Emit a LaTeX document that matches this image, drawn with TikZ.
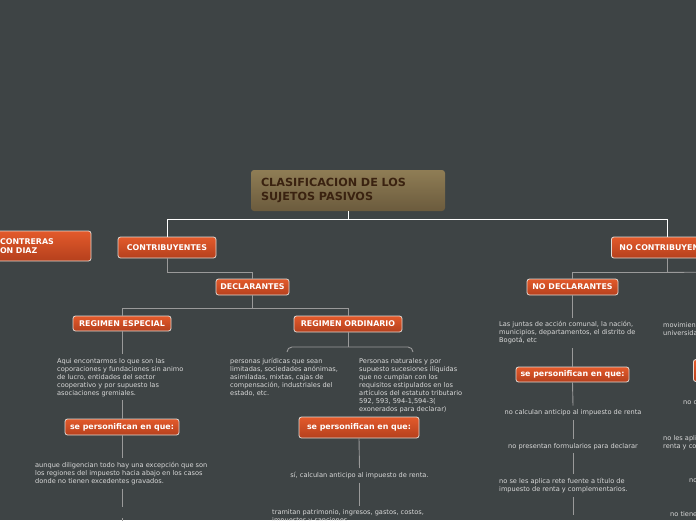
\documentclass[tikz,border=0pt]{standalone}
\usepackage{fontspec}
\setmainfont{DejaVu Sans}
\usepackage{tikz}
\usetikzlibrary{positioning,calc}
\definecolor{canvas}{HTML}{3E4445}
\definecolor{rootTop}{HTML}{8F7D55}
\definecolor{rootBot}{HTML}{6B5B3D}
\definecolor{rootInk}{HTML}{3A2210}
\definecolor{topicTop}{HTML}{E35A2B}
\definecolor{topicBot}{HTML}{B5401D}
\definecolor{topicRim}{HTML}{E2DAD4}
\definecolor{noteInk}{HTML}{DADADA}
\definecolor{linkGrey}{HTML}{9A9A9A}
\tikzset{
  topic/.style={draw=topicRim,line width=0.8pt,rounded corners=2.5pt,
    top color=topicTop,bottom color=topicBot,text=white,inner sep=0pt,
    font=\bfseries\fontsize{7.9}{9}\selectfont},
  note/.style={text=noteInk,inner sep=0pt,outer ysep=4pt,align=left,
    font=\fontsize{6.6}{8}\selectfont},
  link/.style={draw=linkGrey,line width=0.9pt},
  rootlink/.style={draw=white,line width=1pt}
}

\begin{document}
\begin{tikzpicture}[x=1pt,y=-1pt]
  \useasboundingbox (0,0) rectangle (696,520);
  \fill[canvas] (0,0) rectangle (696,520);

  \node[rounded corners=3pt,top color=rootTop,bottom color=rootBot,text=rootInk,
        minimum width=194pt,minimum height=41pt,text width=174pt,inner xsep=10pt,
        align=left,font=\bfseries\fontsize{11.2}{13.7}\selectfont]
    (root) at (348,190.5) {CLASIFICACION DE LOS\\SUJETOS PASIVOS};

  \node[topic,minimum height=30pt,text width=81pt,inner xsep=10pt,align=left]
    (author) at (40.5,246) {CONTRERAS\\ON DIAZ};
  \node[topic,minimum width=98pt,minimum height=21pt] (contrib) at (167,247.5) {CONTRIBUYENTES};
  \node[topic,minimum height=21pt,inner xsep=8pt,anchor=west] (nocontrib) at (611,247.5) {NO CONTRIBUYENTES};
  \coordinate (ncnext) at (730,272);

  \node[topic,minimum width=73pt,minimum height=16pt] (decl) at (252.5,287) {DECLARANTES};
  \node[topic,minimum width=98pt,minimum height=15pt] (esp) at (122,323.5) {REGIMEN ESPECIAL};
  \node[topic,minimum width=108pt,minimum height=16pt] (ord) at (348,324) {REGIMEN ORDINARIO};
  \node[topic,minimum width=91pt,minimum height=16pt] (nodecl) at (572.5,287) {NO DECLARANTES};

  % regimen especial
  \node[note,anchor=north west] (espnote) at (57,354)
    {Aqui encontarmos lo que son las\\coporaciones y fundaciones sin animo\\de lucro, entidades del sector\\cooperativo y por supuesto las\\asociaciones gremiales.};
  \node[topic,minimum width=114pt,minimum height=16pt] (persA) at (122,427) {se personifican en que:};
  \node[note,anchor=north west] (espnote2) at (35,458)
    {aunque diligencian todo hay una excepción que son\\los regiones del impuesto hacia abajo en los casos\\donde no tienen excedentes gravados.};
  \coordinate (espend) at (122,507);
  \coordinate (espnext) at (122,518);
  \coordinate (espbot) at (122,526);

  % regimen ordinario
  \coordinate (brmid) at (348,347);
  \coordinate (brl) at (287,352);
  \coordinate (brr) at (413,352);
  \node[note,anchor=north west] (ordnoteA) at (230,354)
    {personas jurídicas que sean\\limitadas, sociedades anónimas,\\asimiladas, mixtas, cajas de\\compensación, industriales del\\estado, etc.};
  \node[note,anchor=north west] (ordnoteB) at (359,354)
    {Personas naturales y por\\supuesto sucesiones ilíquidas\\que no cumplan con los\\requisitos estipulados en los\\artículos del estatuto tributario\\592, 593, 594-1,594-3(\\exonerados para declarar)};
  \node[topic,minimum width=120pt,minimum height=21pt] (persB) at (359,427.5) {se personifican en que:};
  \node[note,anchor=north] (ordnote2) at (359.5,468) {sí, calculan anticipo al impuesto de renta.};
  \node[note,anchor=north west] (ordnote3) at (272,505.5)
    {tramitan patrimonio, ingresos, gastos, costos,\\impuestos y sanciones.};

  % no declarantes
  \node[note,anchor=north west] (nodeclnote) at (499,317.5)
    {Las juntas de acción comunal, la nación,\\municipios, departamentos, el distrito de\\Bogotá, etc};
  \node[topic,minimum width=113pt,minimum height=15pt] (persC) at (572.5,374.5) {se personifican en que:};
  \node[note,anchor=north] (ndA) at (573,405.6) {no calculan anticipo al impuesto de renta};
  \node[note,anchor=north] (ndB) at (573,439) {no presentan formularios para declarar};
  \node[note,anchor=north west] (ndC) at (499,474)
    {no se les aplica rete fuente a título de\\impuesto de renta y complementarios.};
  \coordinate (ndend) at (573,515);

  % columna derecha
  \node[note,anchor=north west] (frA) at (663,318) {movimient\\universida};
  \node[topic,minimum width=40pt,minimum height=22pt,anchor=west] (persD) at (693,370.5) {};
  \node[note,anchor=north west] (frB) at (683,397) {no c};
  \node[note,anchor=north west] (frC) at (663,431) {no les apli\\renta y co};
  \node[note,anchor=north west] (frD) at (689,475) {no};
  \node[note,anchor=north west] (frE) at (670,507) {no tiene};

  \draw[rootlink] (root.south) -- ++(0,8) -| (contrib.north);
  \draw[rootlink] (root.south) -- ++(0,8) -| (nocontrib.north);
  \draw[link] (contrib.south) -- ++(0,14) -| (decl.north);
  \draw[link] (decl.south) -- ++(0,13.5) -| (esp.north);
  \draw[link] (decl.south) -- ++(0,13.5) -| (ord.north);
  \draw[link] (nocontrib.south) -- ++(0,14) -| (nodecl.north);
  \draw[link] (nocontrib.south) -- ++(0,14) -- (ncnext);

  \draw[link] (esp.south) -- (espnote.north -| esp.south);
  \draw[link] (espnote.south -| esp.south) -- (persA.north);
  \draw[link] (persA.south) -- (espnote2.north -| persA.south);
  \draw[link] (espnote2.south -| persA.south) -- (espend);
  \draw[link] (espnext) -- (espbot);

  \draw[link] (ord.south) -- (brmid);
  \draw[link,rounded corners=5pt] (brl) |- (brmid) -| (brr);
  \draw[link] (persB.south) -- (ordnote2.north);
  \draw[link] (ordnote2.south) -- (ordnote3.north -| ordnote2.south);

  \draw[link] (nodecl.south) -- (nodeclnote.north -| nodecl.south);
  \draw[link] (nodeclnote.south -| nodecl.south) -- (persC.north);
  \draw[link] (persC.south) -- (ndA.north);
  \draw[link] (ndA.south) -- (ndB.north);
  \draw[link] (ndB.south) -- (ndC.north -| ndB.south);
  \draw[link] (ndC.south -| ndB.south) -- (ndend);
\end{tikzpicture}
\end{document}
